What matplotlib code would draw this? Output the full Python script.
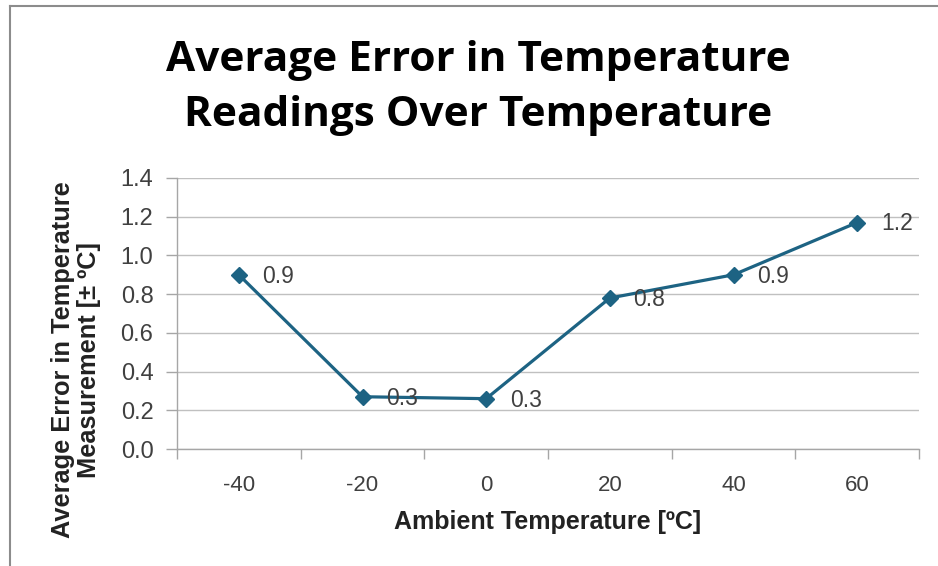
import matplotlib.pyplot as plt
from matplotlib.lines import Line2D

# data
temps = ['-40', '-20', '0', '20', '40', '60']
avg_err = [0.90, 0.27, 0.26, 0.78, 0.90, 1.17]
y_ticks = [0.0, 0.2, 0.4, 0.6, 0.8, 1.0, 1.2, 1.4]

line_col = '#1d6383'
grid_col = '#c0c0c0'
txt_col = '#404040'
sans = ['Liberation Sans', 'DejaVu Sans']

fig = plt.figure(figsize=(9.38, 5.66), dpi=100)
ax = fig.add_axes([177/938, 1-449/566, (919-177)/938, (449-178)/566])

x = list(range(len(temps)))
ax.plot(x, avg_err, color=line_col, lw=2.3, marker='D', ms=8.5, zorder=3)
for xi, v in zip(x, avg_err):
    ax.annotate(f'{v:.1f}', (xi, v), xytext=(17, -1), textcoords='offset points',
                va='center', ha='left', fontsize=16.5, color=txt_col, family=sans)

ax.set_ylim(0, 1.4)
ax.set_yticks(y_ticks)
ax.set_yticklabels([f'{t:.1f}' for t in y_ticks], family=sans, fontsize=17, color=txt_col)
ax.set_xlim(-0.5, len(temps) - 0.5)
ax.set_xticks(x)
ax.set_xticklabels(temps, family=sans, fontsize=16, color=txt_col)
ax.set_xticks([i - 0.5 for i in range(len(temps) + 1)], minor=True)
ax.tick_params(axis='x', which='major', length=0, pad=19)
ax.tick_params(axis='x', which='minor', length=7, color='#a6a6a6', width=1)
ax.tick_params(axis='y', length=8, color='#a6a6a6', width=1, pad=9)

ax.grid(axis='y', color=grid_col, lw=1)
ax.set_axisbelow(True)
for s in ['top', 'right']:
    ax.spines[s].set_visible(False)
for s in ['left', 'bottom']:
    ax.spines[s].set_color('#a6a6a6')
    ax.spines[s].set_linewidth(1)

fig.text(478/938, 1-88/566, 'Average Error in Temperature\nReadings Over Temperature',
         ha='center', va='center', fontsize=30.5, fontweight='bold', linespacing=1.45,
         family=['Open Sans', 'DejaVu Sans'])
fig.text(548/938, 1-522/566, 'Ambient Temperature [ºC]', ha='center', va='center',
         fontsize=18, fontweight='bold', family=sans, color='#222222')
fig.text(76/938, 1-360/566, 'Average Error in Temperature\nMeasurement [± ºC]',
         ha='center', va='center', rotation=90, fontsize=18.3, fontweight='bold',
         linespacing=1.15, family=sans, color='#222222')

# outer frame of the chart object (only top and left edges visible)
fig.add_artist(Line2D([10/938, 10/938], [0, 1-6/566], color='#8c8c8c', lw=1.5,
                      transform=fig.transFigure))
fig.add_artist(Line2D([10/938, 1], [1-6/566, 1-6/566], color='#8c8c8c', lw=1.5,
                      transform=fig.transFigure))

fig.savefig('out.png', dpi=100)
